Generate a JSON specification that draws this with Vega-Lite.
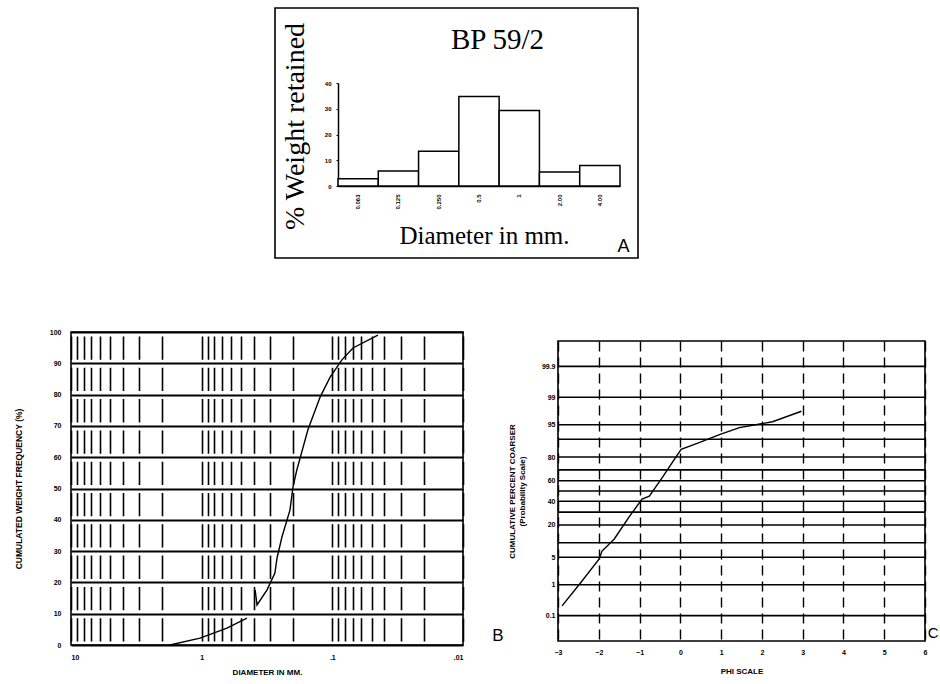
{
  "$schema": "https://vega.github.io/schema/vega-lite/v6.json",
  "padding": {"left": 13, "top": 7, "right": 0, "bottom": 0},
  "background": "white",
  "config": {
    "view": {"stroke": "black", "strokeWidth": 1.6},
    "font": "Liberation Sans",
    "axis": {"labelFont": "Liberation Sans", "titleFont": "Liberation Sans", "labelColor": "black", "titleColor": "black", "domainColor": "black", "tickColor": "black"},
    "title": {"color": "black"}
  },
  "spacing": 68,
  "vconcat": [
    {
      "bounds": "flush",
      "spacing": 10,
      "hconcat": [
        {"width": 194, "height": 1, "data": {"values": []}, "mark": "point", "view": {"stroke": null, "fill": "white"}},
        {
          "width": 363,
          "height": 250,
          "data": {"values": [
            {"d": "0.063", "w": 2.8},
            {"d": "0.125", "w": 5.8},
            {"d": "0.250", "w": 13.5},
            {"d": "0.5", "w": 34.8},
            {"d": "1", "w": 29.3},
            {"d": "2.00", "w": 5.4},
            {"d": "4.00", "w": 8.0}
          ]},
          "layer": [
            {
              "mark": {"type": "bar", "fill": "white", "stroke": "black", "strokeWidth": 1.5},
              "encoding": {
                "x": {"field": "d", "type": "ordinal", "sort": null,
                  "scale": {"range": [63, 345], "paddingInner": 0, "paddingOuter": 0},
                  "axis": {"orient": "bottom", "offset": -72, "title": "Diameter in mm.", "titleFont": "Liberation Serif", "titleFontSize": 25, "titleFontWeight": "normal", "titleX": 209, "titleY": 57, "titleBaseline": "alphabetic", "titleAlign": "center", "labelAngle": -90, "labelFontSize": 6, "labelFontWeight": "bold", "labelPadding": 8, "ticks": false, "domainWidth": 1.5, "grid": false}},
                "y": {"field": "w", "type": "quantitative",
                  "scale": {"domain": [0, 40], "range": [178, 75], "nice": false},
                  "axis": {"orient": "left", "offset": -63, "values": [0, 10, 20, 30, 40], "labelFontSize": 6, "labelFontWeight": "bold", "labelPadding": 5, "tickSize": 2, "grid": false, "domainWidth": 1.5, "title": "% Weight retained", "titleFont": "Liberation Serif", "titleFontSize": 28, "titleFontWeight": "normal", "titleX": -43, "titleY": 118, "titleAngle": -90, "titleAlign": "center", "titleBaseline": "middle"}}
              }
            },
            {
              "mark": {"type": "bar", "opacity": 0},
              "encoding": {
                "x": {"field": "d", "type": "ordinal", "sort": null,
                  "axis": {"orient": "top", "title": "BP 59/2", "labels": false, "ticks": false, "domain": false, "grid": false, "titleX": 222, "titleY": 40, "titleFont": "Liberation Serif", "titleFontSize": 29, "titleFontWeight": "normal", "titleAlign": "center", "titleBaseline": "alphabetic"}},
                "y": {"field": "w", "type": "quantitative",
                  "axis": {"orient": "right", "title": "A", "labels": false, "ticks": false, "domain": false, "grid": false, "titleAngle": 0, "titleX": -15, "titleY": 238, "titleFont": "Liberation Sans", "titleFontSize": 18, "titleFontWeight": "normal", "titleAlign": "center", "titleBaseline": "middle"}}
              }
            }
          ],
          "resolve": {"axis": {"x": "independent", "y": "independent"}}
        }
      ]
    },
    {
      "bounds": "flush",
      "spacing": 95,
      "hconcat": [
        {
          "width": 392,
          "height": 313,
          "title": {"text": "B", "orient": "right", "anchor": "end", "angle": 0, "align": "left", "baseline": "bottom", "fontSize": 17, "font": "Liberation Sans", "fontWeight": "normal", "offset": 18, "frame": "group"},
          "data": {"values": [
            {"seg": "lower", "o": 1, "d": 1.75, "p": 0},
            {"seg": "lower", "o": 2, "d": 1.03, "p": 2.2},
            {"seg": "lower", "o": 3, "d": 0.64, "p": 5.4},
            {"seg": "lower", "o": 4, "d": 0.45, "p": 8.6},
            {"seg": "upper", "o": 5, "d": 0.39, "p": 17.6},
            {"seg": "upper", "o": 6, "d": 0.377, "p": 12.8},
            {"seg": "upper", "o": 7, "d": 0.316, "p": 17.6},
            {"seg": "upper", "o": 8, "d": 0.275, "p": 23.0},
            {"seg": "upper", "o": 9, "d": 0.265, "p": 27.8},
            {"seg": "upper", "o": 10, "d": 0.243, "p": 34.5},
            {"seg": "upper", "o": 11, "d": 0.211, "p": 43.1},
            {"seg": "upper", "o": 12, "d": 0.2, "p": 50.5},
            {"seg": "upper", "o": 13, "d": 0.187, "p": 55.9},
            {"seg": "upper", "o": 14, "d": 0.154, "p": 68.7},
            {"seg": "upper", "o": 15, "d": 0.124, "p": 79.2},
            {"seg": "upper", "o": 16, "d": 0.104, "p": 85.6},
            {"seg": "upper", "o": 17, "d": 0.0845, "p": 91.1},
            {"seg": "upper", "o": 18, "d": 0.0695, "p": 94.9},
            {"seg": "upper", "o": 19, "d": 0.0448, "p": 99.0}
          ]},
          "mark": {"type": "line", "color": "black", "strokeWidth": 1.4},
          "encoding": {
            "x": {"field": "d", "type": "quantitative",
              "scale": {"type": "log", "domain": [0.01, 10], "reverse": true, "nice": false},
              "axis": {"values": [10, 9, 8, 7, 6, 5, 4, 3, 2, 1, 0.9, 0.8, 0.7, 0.6, 0.5, 0.4, 0.3, 0.2, 0.1, 0.09, 0.08, 0.07, 0.06, 0.05, 0.04, 0.03, 0.02, 0.01],
                "labelExpr": "datum.value == 10 ? '10' : datum.value == 1 ? '1' : datum.value == 0.1 ? '.1' : datum.value == 0.01 ? '.01' : ''",
                "grid": true, "gridColor": "black", "gridWidth": 1.6, "gridDash": [23.3, 8], "gridDashOffset": 27.3,
                "ticks": false, "domain": false, "labelFontSize": 7, "labelFontWeight": "bold", "labelPadding": 8, "labelFlush": true, "labelOverlap": false,
                "title": "DIAMETER IN MM.", "titleFontSize": 8, "titleFontWeight": "bold", "titlePadding": 8}},
            "y": {"field": "p", "type": "quantitative",
              "scale": {"domain": [0, 100], "nice": false},
              "axis": {"values": [0, 10, 20, 30, 40, 50, 60, 70, 80, 90, 100], "grid": true, "gridColor": "black", "gridWidth": 1.8, "ticks": false, "domain": false,
                "labelFontSize": 7, "labelFontWeight": "bold", "labelPadding": 10,
                "title": "CUMULATED WEIGHT FREQUENCY (%)", "titleFontSize": 8.5, "titleFontWeight": "bold", "titlePadding": 26}},
            "detail": {"field": "seg"},
            "order": {"field": "o"}
          }
        },
        {
          "bounds": "flush",
          "spacing": 8,
          "vconcat": [
            {"width": 10, "height": 1, "data": {"values": []}, "mark": "point", "view": {"stroke": null}},
            {
              "width": 367,
              "height": 300,
              "title": {"text": "C", "orient": "right", "anchor": "end", "angle": 0, "align": "left", "baseline": "bottom", "fontSize": 15, "font": "Liberation Sans", "fontWeight": "normal", "offset": 0, "dx": -10, "frame": "group"},
              "layer": [
                {
                  "data": {"values": [
                    {"g": 99.9}, {"g": 99}, {"g": 95}, {"g": 90}, {"g": 80}, {"g": 70}, {"g": 60}, {"g": 50},
                    {"g": 40}, {"g": 30}, {"g": 20}, {"g": 10}, {"g": 5}, {"g": 1}, {"g": 0.1}
                  ]},
                  "transform": [{"calculate": "quantileNormal(datum.g / 100)", "as": "z"}],
                  "mark": {"type": "rule", "color": "black", "strokeWidth": 1.6},
                  "encoding": {
                    "y": {"field": "z", "type": "quantitative",
                      "scale": {"domain": [-3.72, 3.72], "nice": false, "zero": false},
                      "axis": {"values": [3.0902, 2.3263, 1.6449, 0.8416, 0.2533, -0.2533, -0.8416, -1.6449, -2.3263, -3.0902],
                        "labelExpr": "'' + round(cumulativeNormal(datum.value) * 1000) / 10",
                        "grid": false, "ticks": false, "domain": false, "labelFontSize": 7, "labelFontWeight": "bold", "labelPadding": 3,
                        "title": ["CUMULATIVE PERCENT COARSER", "(Probability Scale)"], "titleFontSize": 8, "titleFontWeight": "bold", "titlePadding": 15}}
                  }
                },
                {
                  "data": {"values": [
                    {"o": 1, "phi": -2.9, "pct": 0.22},
                    {"o": 2, "phi": -2.43, "pct": 1.2},
                    {"o": 3, "phi": -1.99, "pct": 4.6},
                    {"o": 4, "phi": -1.92, "pct": 6.8},
                    {"o": 5, "phi": -1.62, "pct": 11.7},
                    {"o": 6, "phi": -1.26, "pct": 25.8},
                    {"o": 7, "phi": -0.94, "pct": 42},
                    {"o": 8, "phi": -0.76, "pct": 44.8},
                    {"o": 9, "phi": -0.44, "pct": 63.2},
                    {"o": 10, "phi": -0.2, "pct": 76},
                    {"o": 11, "phi": 0.02, "pct": 84.9},
                    {"o": 12, "phi": 0.46, "pct": 88.5},
                    {"o": 13, "phi": 0.96, "pct": 91.9},
                    {"o": 14, "phi": 1.45, "pct": 94.2},
                    {"o": 15, "phi": 2.26, "pct": 95.7},
                    {"o": 16, "phi": 2.97, "pct": 97.6}
                  ]},
                  "transform": [{"calculate": "quantileNormal(datum.pct / 100)", "as": "z"}],
                  "mark": {"type": "line", "color": "black", "strokeWidth": 1.4},
                  "encoding": {
                    "x": {"field": "phi", "type": "quantitative",
                      "scale": {"domain": [-3, 6], "nice": false, "zero": false},
                      "axis": {"values": [-3, -2, -1, 0, 1, 2, 3, 4, 5, 6], "grid": true, "gridColor": "black", "gridWidth": 1.4, "gridDash": [10, 6],
                        "ticks": false, "domain": false, "labelFontSize": 7, "labelFontWeight": "bold", "labelPadding": 7, "labelFlush": false,
                        "title": "PHI SCALE", "titleFontSize": 8, "titleFontWeight": "bold", "titlePadding": 12}},
                    "y": {"field": "z", "type": "quantitative",
                      "axis": {"values": [3.0902, 2.3263, 1.6449, 0.8416, 0.2533, -0.2533, -0.8416, -1.6449, -2.3263, -3.0902],
                        "labelExpr": "'' + round(cumulativeNormal(datum.value) * 1000) / 10",
                        "grid": false, "ticks": false, "domain": false, "labelFontSize": 7, "labelFontWeight": "bold", "labelPadding": 3,
                        "title": ["CUMULATIVE PERCENT COARSER", "(Probability Scale)"], "titleFontSize": 8, "titleFontWeight": "bold", "titlePadding": 15}},
                    "order": {"field": "o"}
                  }
                }
              ]
            }
          ]
        }
      ]
    }
  ]
}
